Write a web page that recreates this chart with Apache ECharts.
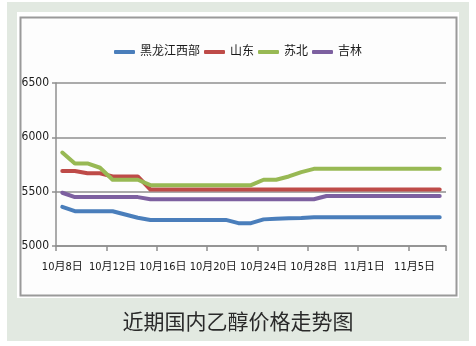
<!DOCTYPE html>
<html>
<head>
<meta charset="utf-8">
<script src="https://cdn.jsdelivr.net/npm/echarts@6/dist/echarts.min.js"></script>
<style>
html,body{margin:0;padding:0;background:#fff;}
#chart{width:476px;height:346px;}
</style>
</head>
<body>
<div id="chart"></div>
<script>
const categories = [
  '10月8日','10月9日','10月10日','10月11日','10月12日','10月13日','10月14日','10月15日',
  '10月16日','10月17日','10月18日','10月19日','10月20日','10月21日','10月22日','10月23日',
  '10月24日','10月25日','10月26日','10月27日','10月28日','10月29日','10月30日','10月31日',
  '11月1日','11月2日','11月3日','11月4日','11月5日','11月6日','11月7日'
];
const seriesNames = ['黑龙江西部','山东','苏北','吉林'];
const heilongjiang = [5360,5320,5320,5320,5320,5290,5260,5240,5240,5240,5240,5240,5240,5240,5210,5210,
  5245,5250,5255,5258,5265,5265,5265,5265,5265,5265,5265,5265,5265,5265,5265];
const shandong = [5690,5690,5670,5670,5640,5640,5640,5520,5520,5520,5520,5520,5520,5520,5520,5520,
  5520,5520,5520,5520,5520,5520,5520,5520,5520,5520,5520,5520,5520,5520,5520];
const subei = [5860,5760,5760,5720,5610,5610,5610,5560,5560,5560,5560,5560,5560,5560,5560,5560,
  5610,5610,5640,5680,5710,5710,5710,5710,5710,5710,5710,5710,5710,5710,5710];
const jilin = [5490,5450,5450,5450,5450,5450,5450,5430,5430,5430,5430,5430,5430,5430,5430,5430,
  5430,5430,5430,5430,5430,5460,5460,5460,5460,5460,5460,5460,5460,5460,5460];
const yTicks = { min: 5000, max: 6500, interval: 500 };
const chartTitle = '近期国内乙醇价格走势图';

const colors = ['#4a7ebb','#be4b48','#98b954','#7d60a0'];
const dataSets = [heilongjiang, shandong, subei, jilin];
const labelFont = "'Liberation Sans Narrow','DejaVu Sans Condensed','Noto Sans CJK SC',sans-serif";
const gridGray = '#8f8f8f';

const chart = echarts.init(document.getElementById('chart'), null, {renderer:'canvas'});
chart.setOption({
  animation: false,
  color: colors,
  graphic: [
    {type:'rect', z:-30, silent:true, shape:{x:7,y:2,width:462,height:339}, style:{fill:'#e2e9e1'}},
    {type:'rect', z:-20, silent:true, shape:{x:17,y:12,width:442,height:286}, style:{fill:'#ffffff'}},
    {type:'rect', z:-10, silent:true, shape:{x:20.5,y:17.5,width:436,height:278}, style:{fill:'#fdfdfd', stroke:'#9a9a9a', lineWidth:2}}
  ],
  title: {
    text: chartTitle,
    left: 'center',
    top: 306,
    textStyle: {fontSize: 21, fontWeight: 'normal', color: '#2a2a2a', fontFamily: "'Noto Sans CJK SC',sans-serif"}
  },
  legend: {
    top: 41,
    left: 'center',
    itemWidth: 21,
    itemHeight: 4,
    itemGap: 4,
    icon: 'roundRect',
    textStyle: {fontSize: 12, color: '#1a1a1a', fontFamily: labelFont},
    data: seriesNames
  },
  grid: {left: 56, right: 30, top: 83, bottom: 100, containLabel: false},
  xAxis: {
    type: 'category',
    data: categories,
    boundaryGap: true,
    axisLine: {show: true, lineStyle: {color: gridGray, width: 1.5}},
    axisTick: {show: true, interval: 3, length: 5, alignWithLabel: false, lineStyle: {color: gridGray, width: 1.5}},
    axisLabel: {interval: 3, margin: 16, fontSize: 11, color: '#1a1a1a', fontFamily: labelFont}
  },
  yAxis: {
    type: 'value',
    min: yTicks.min,
    max: yTicks.max,
    interval: yTicks.interval,
    axisLine: {show: true, lineStyle: {color: gridGray, width: 1.5}},
    axisTick: {show: true, length: 4, lineStyle: {color: gridGray, width: 1.5}},
    splitLine: {show: true, lineStyle: {color: gridGray, width: 1.5}},
    axisLabel: {margin: 7, fontSize: 12, color: '#1a1a1a', fontFamily: labelFont, formatter: v => String(v)}
  },
  series: seriesNames.map((name, i) => ({
    name: name,
    type: 'line',
    data: dataSets[i],
    symbol: 'none',
    smooth: false,
    lineStyle: {width: 4, color: colors[i], cap: 'round', join: 'round'}
  }))
});
</script>
</body>
</html>
